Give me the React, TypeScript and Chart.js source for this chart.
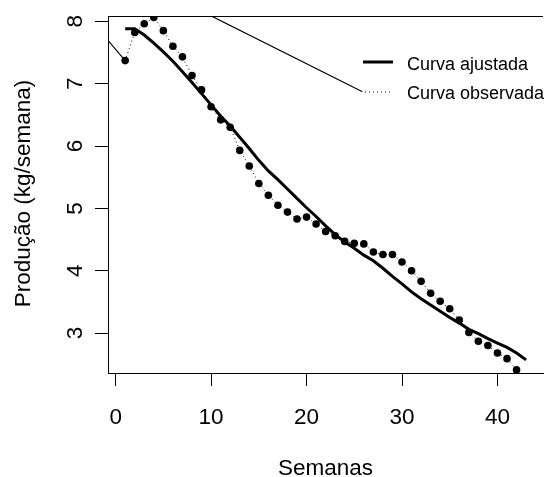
import React, { useEffect, useRef } from 'react';
import { Chart, registerables } from 'chart.js';
Chart.register(...registerables);

const weeksFit = [1, 2, 3, 4, 5, 6, 7, 8, 9, 10, 11, 12, 13, 14, 15, 16, 17, 18, 19, 20, 21, 22, 23, 24, 25, 26, 27, 28, 29, 30, 31, 32, 33, 34, 35, 36, 37, 38, 39, 40, 41, 42, 43];
const fitted = [7.88, 7.88, 7.78, 7.65, 7.51, 7.36, 7.19, 7.02, 6.84, 6.66, 6.48, 6.32, 6.14, 5.96, 5.77, 5.6, 5.46, 5.31, 5.16, 5.01, 4.87, 4.72, 4.58, 4.46, 4.36, 4.25, 4.16, 4.04, 3.91, 3.79, 3.66, 3.55, 3.45, 3.35, 3.25, 3.16, 3.06, 2.99, 2.91, 2.84, 2.77, 2.68, 2.57];
const weeksObs = [1, 2, 3, 4, 5, 6, 7, 8, 9, 10, 11, 12, 13, 14, 15, 16, 17, 18, 19, 20, 21, 22, 23, 24, 25, 26, 27, 28, 29, 30, 31, 32, 33, 34, 35, 36, 37, 38, 39, 40, 41, 42];
const observed = [7.37, 7.82, 7.96, 8.06, 7.85, 7.6, 7.43, 7.13, 6.9, 6.63, 6.42, 6.3, 5.93, 5.68, 5.4, 5.21, 5.05, 4.94, 4.83, 4.86, 4.75, 4.63, 4.56, 4.47, 4.44, 4.43, 4.3, 4.26, 4.26, 4.14, 4.0, 3.83, 3.64, 3.51, 3.39, 3.21, 3.01, 2.87, 2.8, 2.68, 2.59, 2.41];
const stubX = [-1, 1];
const stubY = [7.73, 7.37];
const diagX = [-1, 25.86];
const diagY = [8.93, 6.87];
const xTicks = [0, 10, 20, 30, 40];
const yTicks = [3, 4, 5, 6, 7, 8];
const xTitle = 'Semanas';
const yTitle = 'Produção (kg/semana)';
const legendLabels = ['Curva ajustada', 'Curva observada'];

const FONT = '"Liberation Sans", Arial, Helvetica, sans-serif';

const pts = (xs: number[], ys: number[]) => xs.map((x, i) => ({ x, y: ys[i] }));

const decorPlugin = {
  id: 'decor',
  afterDraw(chart: any) {
    const ctx = chart.ctx;
    const area = chart.chartArea;
    const xs = chart.scales.x;
    const ys = chart.scales.y;
    ctx.save();
    ctx.strokeStyle = '#000';
    ctx.fillStyle = '#000';
    ctx.lineWidth = 1;
    // top box line
    ctx.beginPath();
    ctx.moveTo(area.left, Math.round(area.top) + 0.5);
    ctx.lineTo(area.right, Math.round(area.top) + 0.5);
    ctx.stroke();
    // x tick labels
    ctx.font = `22.5px ${FONT}`;
    ctx.textAlign = 'center';
    ctx.textBaseline = 'alphabetic';
    xTicks.forEach((v) => {
      ctx.fillText(String(v), xs.getPixelForValue(v), 424);
    });
    // y tick labels (rotated)
    yTicks.forEach((v) => {
      const py = ys.getPixelForValue(v);
      ctx.save();
      ctx.translate(81.5, py);
      ctx.rotate(-Math.PI / 2);
      ctx.fillText(String(v), 0, 0);
      ctx.restore();
    });
    // titles
    ctx.fillText(xTitle, (area.left + area.right) / 2, 475);
    ctx.save();
    ctx.translate(30, (area.top + area.bottom) / 2 - 1);
    ctx.rotate(-Math.PI / 2);
    ctx.fillText(yTitle, 0, 0);
    ctx.restore();
    // legend
    ctx.lineWidth = 3;
    ctx.beginPath();
    ctx.moveTo(363, 62);
    ctx.lineTo(393, 62);
    ctx.stroke();
    ctx.lineWidth = 1;
    ctx.setLineDash([1, 3]);
    ctx.beginPath();
    ctx.moveTo(365, 92);
    ctx.lineTo(391, 92);
    ctx.stroke();
    ctx.setLineDash([]);
    ctx.font = `18px ${FONT}`;
    ctx.textAlign = 'left';
    ctx.textBaseline = 'middle';
    ctx.fillText(legendLabels[0], 407, 65);
    ctx.fillText(legendLabels[1], 407, 94);
    ctx.restore();
  },
};

export default function App() {
  const ref = useRef<HTMLCanvasElement | null>(null);
  useEffect(() => {
    if (!ref.current) return;
    const chart = new Chart(ref.current, {
      type: 'scatter',
      data: {
        datasets: [
          {
            data: pts(stubX, stubY),
            showLine: true,
            borderColor: '#000',
            borderWidth: 1.2,
            pointRadius: 0,
            clip: 0,
          },
          {
            data: pts(diagX, diagY),
            showLine: true,
            borderColor: '#000',
            borderWidth: 1.2,
            pointRadius: 0,
            clip: 0,
          },
          {
            data: pts(weeksObs, observed),
            showLine: true,
            borderColor: '#000',
            borderWidth: 1,
            borderDash: [1, 3],
            pointRadius: 3.8,
            pointBackgroundColor: '#000',
            pointBorderColor: '#000',
            pointBorderWidth: 0,
            clip: 0,
          },
          {
            data: pts(weeksFit, fitted),
            showLine: true,
            borderColor: '#000',
            borderWidth: 3,
            pointRadius: 0,
            clip: 0,
          },
        ] as any,
      },
      options: {
        responsive: false,
        animation: false,
        events: [],
        layout: { padding: { top: 16, right: 0, left: 0, bottom: 0 } },
        plugins: { legend: { display: false }, tooltip: { enabled: false } },
        scales: {
          x: {
            type: 'linear',
            min: -0.8,
            max: 44.77,
            afterFit: (s: any) => { s.height = 104; },
            ticks: { display: false, stepSize: 10, includeBounds: false },
            grid: { drawOnChartArea: false, drawTicks: true, tickLength: 13, color: '#000', lineWidth: 1 },
            border: { display: true, color: '#000', width: 1 },
          },
          y: {
            type: 'linear',
            min: 2.36,
            max: 8.085,
            afterFit: (s: any) => { s.width = 108; },
            ticks: { display: false, stepSize: 1, includeBounds: false },
            grid: { drawOnChartArea: false, drawTicks: true, tickLength: 13, color: '#000', lineWidth: 1 },
            border: { display: true, color: '#000', width: 1 },
          },
        },
      } as any,
      plugins: [decorPlugin],
    });
    return () => chart.destroy();
  }, []);
  return (
    <div style={{ position: 'fixed', left: 0, top: 0, width: 547, height: 477, background: '#fff' }}>
      <canvas ref={ref} width={547} height={477} style={{ width: 547, height: 477, display: 'block' }} />
    </div>
  );
}
